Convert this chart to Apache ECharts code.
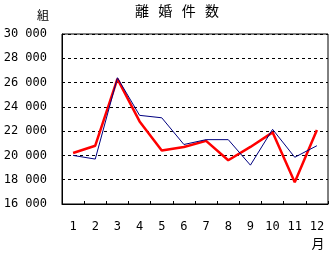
<!DOCTYPE html>
<html><head><meta charset="utf-8">
<script src="https://cdn.jsdelivr.net/npm/echarts@6/dist/echarts.min.js"></script>
<style>html,body{margin:0;padding:0;background:#fff;}#c{width:333px;height:253px;}</style>
</head><body><div id="c"></div>
<script>
const months = ['1','2','3','4','5','6','7','8','9','10','11','12'];
const redSeries = [20200, 20800, 26300, 22800, 20400, 20700, 21200, 19600, 20700, 21900, 17800, 22100];
const blueSeries = [20000, 19700, 26400, 23300, 23100, 20900, 21300, 21300, 19200, 22150, 19850, 20800];
const yTicks = [16000, 18000, 20000, 22000, 24000, 26000, 28000, 30000];
const titleText = '離   婚   件   数';
const unitText = '組';
const monthUnit = '月';

const font = 'DejaVu Sans Mono';
const chart = echarts.init(document.getElementById('c'), null, {renderer: 'canvas'});
chart.setOption({
  animation: false,
  backgroundColor: '#fff',
  grid: {left: 62, top: 34, right: 5, bottom: 49, show: true, borderColor: '#000', borderWidth: 1, backgroundColor: 'transparent'},
  xAxis: {
    type: 'category', data: months, boundaryGap: true,
    axisLine: {lineStyle: {color: '#000', width: 1}},
    axisTick: {show: true, inside: true, length: 3, lineStyle: {color: '#000'}},
    axisLabel: {color: '#000', fontSize: 12, fontFamily: font, margin: 17}
  },
  yAxis: {
    type: 'value', min: yTicks[0], max: yTicks[yTicks.length - 1], interval: 2000,
    axisLine: {show: true, lineStyle: {color: '#000', width: 1}},
    axisTick: {show: false},
    splitLine: {show: true, lineStyle: {color: '#000', type: [3, 3], width: 1}},
    axisLabel: {color: '#000', fontSize: 12, fontFamily: font, margin: 15,
      formatter: v => String(v).replace(/(\d+)(\d{3})$/, '$1 $2')}
  },
  graphic: [
    {type: 'text', style: {text: titleText, x: 177, y: 11, font: '14px "Noto Sans CJK JP"', fill: '#000', textAlign: 'center', textVerticalAlign: 'middle'}},
    {type: 'text', style: {text: unitText, x: 43, y: 15, font: '12px "Noto Sans CJK JP"', fill: '#000', textAlign: 'center', textVerticalAlign: 'middle'}},
    {type: 'text', style: {text: monthUnit, x: 318, y: 243, font: '13px "Noto Sans CJK JP"', fill: '#000', textAlign: 'center', textVerticalAlign: 'middle'}}
  ],
  series: [
    {type: 'line', data: redSeries, showSymbol: false, symbol: 'none', lineStyle: {color: '#ff0000', width: 2.5}, z: 2},
    {type: 'line', data: blueSeries, showSymbol: false, symbol: 'none', lineStyle: {color: '#000080', width: 1}, z: 3}
  ]
});
</script></body></html>
